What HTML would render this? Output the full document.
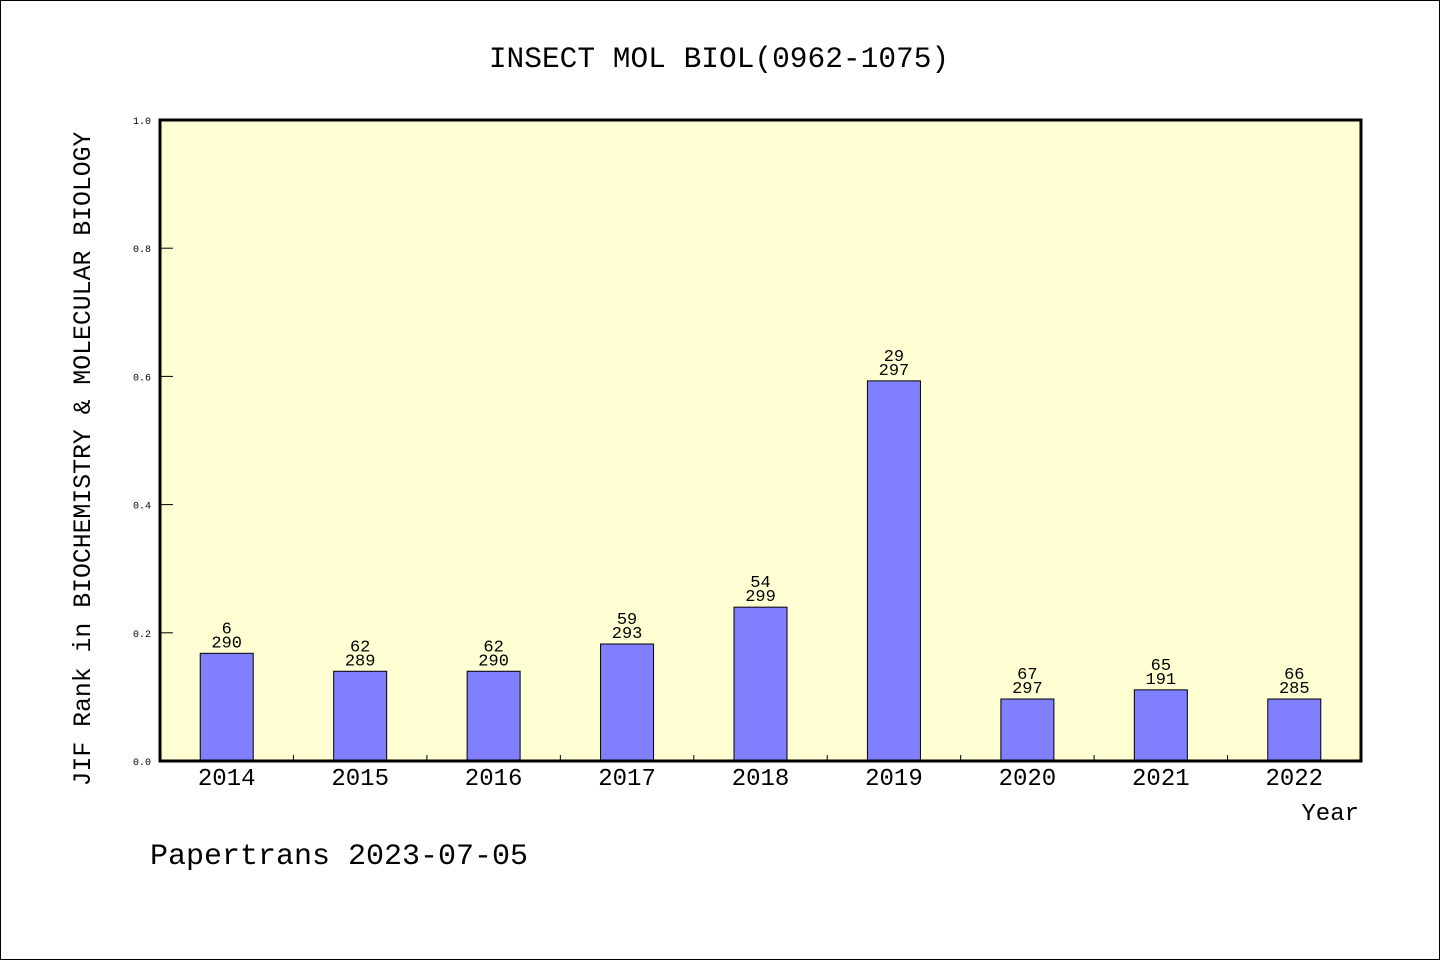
<!DOCTYPE html>
<html><head><meta charset="utf-8"><style>
html,body{margin:0;padding:0;background:#fff}
svg{display:block}
text{font-family:"Liberation Mono",monospace;fill:#000}
</style></head><body>
<svg id="chart" width="1440" height="960">
<rect x="0.5" y="0.5" width="1439" height="959" fill="#fff" stroke="#000"/>
<text x="719" y="67" font-size="29.5" text-anchor="middle">INSECT MOL BIOL(0962-1075)</text>
<rect x="160" y="120" width="1201" height="641" fill="#ffffd3"/>
<g id="marks"></g>
<rect x="160" y="120" width="1201" height="641" fill="none" stroke="#000" stroke-width="3"/>
<text transform="translate(90,459) rotate(-90)" font-size="24.8" text-anchor="middle">JIF Rank in BIOCHEMISTRY &amp; MOLECULAR BIOLOGY</text>
<text x="1359" y="820" font-size="24" text-anchor="end">Year</text>
<text x="150" y="864" font-size="30">Papertrans 2023-07-05</text>
</svg>
<script>
const categories=["2014","2015","2016","2017","2018","2019","2020","2021","2022"];
const values=[0.168,0.140,0.140,0.1825,0.240,0.593,0.0967,0.111,0.0967];
const ranks=["6","62","62","59","54","29","67","65","66"];
const totals=["290","289","290","293","299","297","297","191","285"];
const yTicks=[0,0.2,0.4,0.6,0.8,1.0];
const X0=160,X1=1361,Y0=761,Y1=120;
const band=(X1-X0)/categories.length;
const xc=i=>X0+band*(i+0.5);
const y=v=>Y0-(Y0-Y1)*v;
const NS="http://www.w3.org/2000/svg";
const g=document.getElementById('marks');
function mk(t,a,txt){const e=document.createElementNS(NS,t);for(const k in a)e.setAttribute(k,a[k]);if(txt!==undefined)e.textContent=txt;g.appendChild(e);return e;}
yTicks.forEach(v=>{
  const l=mk('line',{x1:X0,x2:X0+13,y1:y(v),y2:y(v),stroke:'#000','stroke-width':1});
  
  
  const t=mk('text',{x:151,y:y(v)+4,'font-size':10,'text-anchor':'end'},v.toFixed(1));
  
  
});
for(let i=1;i<categories.length;i++){
  const l=mk('line',{x1:X0+band*i,x2:X0+band*i,y1:Y0,y2:Y0-6,stroke:'#000','stroke-width':1});
  
  
}
categories.forEach((c,i)=>{
  const bw=53,top=y(values[i]);
  const r=mk('rect',{x:xc(i)-bw/2,y:top,width:bw,height:Y0-top,fill:'#8080ff',stroke:'#000','stroke-width':1});
  
  
  const t1=mk('text',{x:xc(i),y:top-20,'font-size':17,'text-anchor':'middle'},ranks[i]);
  
  
  const t2=mk('text',{x:xc(i),y:top-6,'font-size':17,'text-anchor':'middle'},totals[i]);
  
  
  const xl=mk('text',{x:xc(i),y:785,'font-size':24,'text-anchor':'middle'},c);
  
  
});
</script>
</body></html>
